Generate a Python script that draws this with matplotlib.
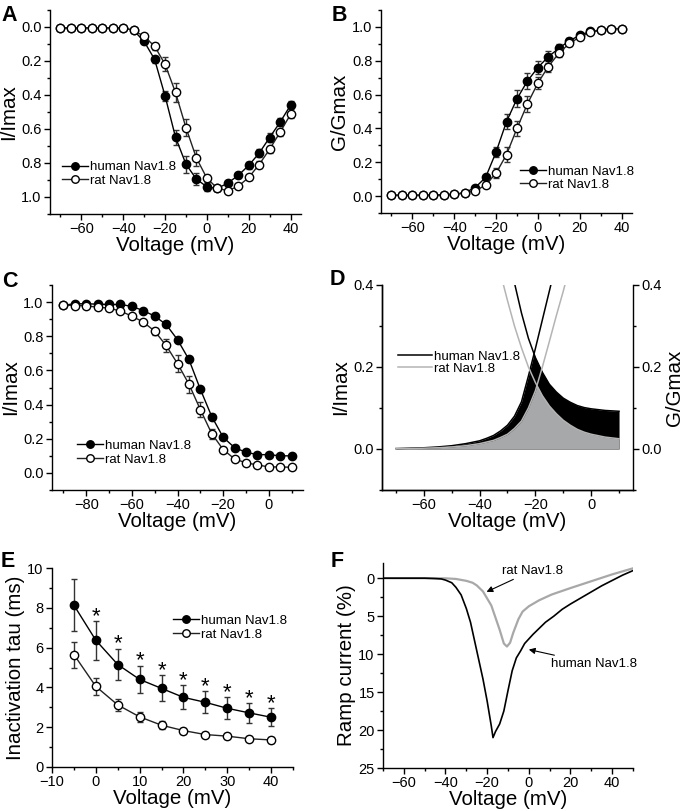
import numpy as np
import matplotlib
matplotlib.use("Agg")
import matplotlib.pyplot as plt
from matplotlib.ticker import MultipleLocator

plt.rcParams['font.family'] = ['Liberation Sans', 'DejaVu Sans']
plt.rcParams['font.size'] = 10.5
plt.rcParams['axes.linewidth'] = 1.0
plt.rcParams['xtick.direction'] = 'out'
plt.rcParams['ytick.direction'] = 'out'

# ---- A / B: activation, -70..40 mV ----
volt_act = [-70, -65, -60, -55, -50, -45, -40, -35, -30, -25, -20, -15,
            -10, -5, 0, 5, 10, 15, 20, 25, 30, 35, 40]
iv_human = [0.005, 0.005, 0.005, 0.005, 0.005, 0.005, 0.005, 0.02, 0.085, 0.19, 0.405, 0.648,
            0.807, 0.895, 0.94, 0.95, 0.918, 0.873, 0.814, 0.742, 0.65, 0.56, 0.46]
iv_human_err = [0, 0, 0, 0, 0, 0, 0, 0.01, 0.015, 0.02, 0.03, 0.045,
                0.05, 0.035, 0.025, 0.015, 0.015, 0.015, 0.02, 0.025, 0.025, 0.025, 0.025]
iv_rat = [0.005, 0.005, 0.005, 0.005, 0.005, 0.005, 0.005, 0.02, 0.055, 0.113, 0.219, 0.385,
          0.592, 0.771, 0.889, 0.949, 0.963, 0.937, 0.885, 0.809, 0.719, 0.619, 0.514]
iv_rat_err = [0, 0, 0, 0, 0, 0, 0, 0.01, 0.01, 0.02, 0.04, 0.055,
              0.05, 0.045, 0.02, 0.015, 0.015, 0.01, 0.015, 0.02, 0.02, 0.02, 0.02]

g_human = [0.005, 0.005, 0.005, 0.005, 0.005, 0.008, 0.01, 0.02, 0.05, 0.11, 0.26, 0.44,
           0.575, 0.68, 0.76, 0.824, 0.873, 0.918, 0.95, 0.973, 0.98, 0.99, 0.99]
g_human_err = [0, 0, 0, 0, 0, 0, 0, 0.005, 0.01, 0.015, 0.03, 0.045,
               0.05, 0.045, 0.04, 0.035, 0.025, 0.015, 0.01, 0.01, 0.01, 0.01, 0.01]
g_rat = [0.005, 0.005, 0.005, 0.005, 0.005, 0.008, 0.01, 0.02, 0.03, 0.065, 0.135, 0.245,
         0.40, 0.545, 0.668, 0.766, 0.844, 0.902, 0.94, 0.97, 0.98, 0.99, 0.99]
g_rat_err = [0, 0, 0, 0, 0, 0, 0, 0.005, 0.01, 0.01, 0.03, 0.045,
             0.045, 0.045, 0.035, 0.03, 0.02, 0.015, 0.01, 0.01, 0.01, 0.01, 0.01]

# ---- C: steady-state inactivation, -90..10 mV ----
volt_inact = [-90, -85, -80, -75, -70, -65, -60, -55, -50, -45, -40,
              -35, -30, -25, -20, -15, -10, -5, 0, 5, 10]
h_human = [0.982, 0.99, 0.99, 0.988, 0.986, 0.986, 0.975, 0.95, 0.918, 0.869, 0.78,
           0.664, 0.49, 0.33, 0.209, 0.148, 0.121, 0.107, 0.107, 0.10, 0.10]
h_human_err = [0.005, 0.005, 0.005, 0.005, 0.005, 0.005, 0.005, 0.008, 0.01, 0.01, 0.01,
               0.012, 0.012, 0.012, 0.01, 0.008, 0.008, 0.008, 0.008, 0.008, 0.008]
h_rat = [0.982, 0.98, 0.978, 0.97, 0.965, 0.947, 0.918, 0.883, 0.83, 0.746, 0.64,
         0.52, 0.371, 0.23, 0.137, 0.082, 0.059, 0.047, 0.035, 0.035, 0.033]
h_rat_err = [0.005, 0.005, 0.005, 0.01, 0.01, 0.01, 0.01, 0.015, 0.02, 0.04, 0.05,
             0.05, 0.045, 0.03, 0.015, 0.01, 0.01, 0.008, 0.008, 0.008, 0.008]

# ---- D: window current (fitted curves) ----
volt_win = [-70, -65, -60, -55, -50, -45, -40, -37.5, -35, -32.5, -30, -27.5, -25, -22.5,
            -20, -17.5, -15, -12.5, -10, -7.5, -5, -2.5, 0, 5, 10]
act_human = [0.001, 0.002, 0.003, 0.005, 0.008, 0.013, 0.02, 0.026, 0.033, 0.044, 0.058,
             0.08, 0.115, 0.178, 0.245, 0.315, 0.385, 0.455, 0.52, 0.585, 0.65, 0.71,
             0.76, 0.84, 0.9]
inact_human = [0.98, 0.97, 0.96, 0.94, 0.92, 0.88, 0.79, 0.725, 0.652, 0.568, 0.484,
               0.405, 0.332, 0.27, 0.223, 0.187, 0.158, 0.139, 0.124, 0.114, 0.106, 0.101,
               0.098, 0.094, 0.092]
act_rat = [0.001, 0.001, 0.002, 0.003, 0.005, 0.008, 0.013, 0.017, 0.021, 0.028, 0.036,
           0.05, 0.068, 0.1, 0.142, 0.2, 0.262, 0.325, 0.385, 0.45, 0.51, 0.57,
           0.63, 0.73, 0.81]
inact_rat = [0.97, 0.96, 0.95, 0.92, 0.85, 0.757, 0.637, 0.568, 0.499, 0.428, 0.362,
             0.3, 0.247, 0.2, 0.162, 0.13, 0.105, 0.086, 0.07, 0.058, 0.048, 0.041,
             0.036, 0.029, 0.025]

# ---- E: inactivation time constants ----
volt_tau = [-5, 0, 5, 10, 15, 20, 25, 30, 35, 40]
tau_human = [8.13, 6.37, 5.15, 4.4, 3.95, 3.5, 3.25, 2.95, 2.72, 2.5]
tau_human_err = [1.3, 0.98, 0.8, 0.7, 0.65, 0.6, 0.55, 0.55, 0.5, 0.45]
tau_rat = [5.65, 4.05, 3.12, 2.52, 2.1, 1.83, 1.63, 1.55, 1.42, 1.36]
tau_rat_err = [0.65, 0.42, 0.32, 0.25, 0.2, 0.15, 0.12, 0.15, 0.12, 0.15]
tau_signif = volt_tau[1:]

# ---- F: ramp currents ----
ramp_v_human = [-70, -60, -50, -45, -42, -40, -37, -35, -32.5, -30, -28, -26, -24, -22, -20,
                -18, -17.2, -16, -14, -12, -10, -8, -6, -4, -2, 0, 2, 5, 8, 12, 16, 20,
                25, 30, 35, 40, 45, 50]
ramp_human = [0, 0, 0, 0.05, 0.1, 0.25, 0.6, 1.2, 2.2, 4.0, 5.8, 8.3, 10.8, 13.3, 16.2,
              19.5, 21.0, 20.2, 19.2, 17.5, 14.8, 12.2, 10.5, 9.6, 8.6, 8.0, 7.4, 6.6, 5.8,
              5.0, 4.1, 3.4, 2.6, 1.8, 1.0, 0.3, -0.4, -1.0]
ramp_v_rat = [-70, -50, -40, -35, -30, -27, -25, -22, -18, -16, -14, -12, -10.5, -9, -7.5,
              -5, -3, 0, 5, 11, 20, 30, 40, 50]
ramp_rat = [0, 0, 0.02, 0.1, 0.35, 0.6, 0.95, 1.75, 3.6, 5.2, 6.8, 8.6, 9.0, 8.5, 7.2,
            5.4, 4.4, 3.7, 2.9, 2.15, 1.3, 0.4, -0.5, -1.3]

W, H = 682, 811
LABEL = 14.8
TICK = 10.5
fig = plt.figure(figsize=(W / 100, H / 100), dpi=100)


def box(l, t, r, b):
    return [l / W, 1 - b / H, (r - l) / W, (b - t) / H]


def style(ax):
    ax.spines['top'].set_visible(False)
    ax.spines['right'].set_visible(False)
    ax.tick_params(which='major', length=4, width=1, labelsize=TICK, pad=2)
    ax.tick_params(which='minor', length=2.5, width=1)
    ax.set_xlabel('Voltage (mV)', fontsize=LABEL, labelpad=0)


def two_series(ax, x, yh, eh, yr, er):
    ax.errorbar(x, yh, yerr=eh, fmt='none', ecolor='#333333', elinewidth=1, capsize=2, zorder=2)
    ax.errorbar(x, yr, yerr=er, fmt='none', ecolor='#333333', elinewidth=1, capsize=2, zorder=2)
    ax.plot(x, yh, '-o', color='black', lw=1, ms=6, mfc='black', mec='black',
            label='human Nav1.8', zorder=3)
    ax.plot(x, yr, '-o', color='#222222', lw=1, ms=6, mfc='white', mec='black',
            label='rat Nav1.8', zorder=3)


def legend(ax, fx, fy):
    ax.legend(loc='upper left', bbox_to_anchor=(fx, fy), frameon=False, fontsize=9.5,
              handlelength=2.0, handletextpad=0.1, labelspacing=0.1, borderpad=0,
              borderaxespad=0, numpoints=1, markerscale=0.9)


# A
axA = fig.add_axes(box(50, 10, 301, 214))
two_series(axA, volt_act, iv_human, iv_human_err, iv_rat, iv_rat_err)
axA.set_xlim(-75, 45)
axA.set_ylim(1.1, -0.1)
axA.xaxis.set_major_locator(MultipleLocator(20))
axA.xaxis.set_minor_locator(MultipleLocator(10))
axA.yaxis.set_major_locator(MultipleLocator(0.2))
axA.yaxis.set_minor_locator(MultipleLocator(0.1))
axA.yaxis.set_major_formatter(plt.FormatStrFormatter('%.1f'))
axA.set_ylabel('I/Imax', fontsize=LABEL, labelpad=2)
style(axA)
legend(axA, 0.048, 0.26)

# B
axB = fig.add_axes(box(381, 10, 632, 213))
two_series(axB, volt_act, g_human, g_human_err, g_rat, g_rat_err)
axB.set_xlim(-75, 45)
axB.set_ylim(-0.1, 1.1)
axB.xaxis.set_major_locator(MultipleLocator(20))
axB.xaxis.set_minor_locator(MultipleLocator(10))
axB.yaxis.set_major_locator(MultipleLocator(0.2))
axB.yaxis.set_minor_locator(MultipleLocator(0.1))
axB.yaxis.set_major_formatter(plt.FormatStrFormatter('%.1f'))
axB.set_ylabel('G/Gmax', fontsize=LABEL, labelpad=2)
style(axB)
legend(axB, 0.554, 0.235)

# C
axC = fig.add_axes(box(52, 285, 303, 490))
two_series(axC, volt_inact, h_human, h_human_err, h_rat, h_rat_err)
axC.set_xlim(-95, 15)
axC.set_ylim(-0.1, 1.1)
axC.xaxis.set_major_locator(MultipleLocator(20))
axC.xaxis.set_minor_locator(MultipleLocator(10))
axC.yaxis.set_major_locator(MultipleLocator(0.2))
axC.yaxis.set_minor_locator(MultipleLocator(0.1))
axC.yaxis.set_major_formatter(plt.FormatStrFormatter('%.1f'))
axC.set_ylabel('I/Imax', fontsize=LABEL, labelpad=2)
style(axC)
legend(axC, 0.10, 0.245)

# D
axD = fig.add_axes(box(382, 285, 633, 490))
fine = np.linspace(volt_win[0], volt_win[-1], 801)
top_h = np.minimum(np.interp(fine, volt_win, act_human), np.interp(fine, volt_win, inact_human))
top_r = np.minimum(np.interp(fine, volt_win, act_rat), np.interp(fine, volt_win, inact_rat))
axD.fill_between(fine, 0, top_h, color='black', lw=0, zorder=1)
axD.fill_between(fine, 0, top_r, color='#a7a8aa', lw=0, zorder=2)
axD.plot(volt_win, act_human, color='black', lw=1.1, zorder=3, label='human Nav1.8')
axD.plot(volt_win, inact_human, color='black', lw=1.1, zorder=3)
axD.plot(volt_win, act_rat, color='#b4b4b4', lw=1.1, zorder=4, label='rat Nav1.8')
axD.plot(volt_win, inact_rat, color='#b4b4b4', lw=1.1, zorder=4)
axD.set_xlim(-75, 15)
axD.set_ylim(-0.1, 0.4)
axD.xaxis.set_major_locator(MultipleLocator(20))
axD.xaxis.set_minor_locator(MultipleLocator(10))
axD.yaxis.set_major_locator(MultipleLocator(0.2))
axD.yaxis.set_minor_locator(MultipleLocator(0.1))
axD.yaxis.set_major_formatter(plt.FormatStrFormatter('%.1f'))
axD.set_ylabel('I/Imax', fontsize=LABEL, labelpad=2)
style(axD)
axD.legend(loc='upper left', bbox_to_anchor=(0.064, 0.68), frameon=False, fontsize=9.5,
           handlelength=2.6, handletextpad=0.1, labelspacing=0.0, borderpad=0,
           borderaxespad=0)
axD2 = axD.twinx()
axD2.set_ylim(-0.1, 0.4)
axD2.yaxis.set_major_locator(MultipleLocator(0.2))
axD2.yaxis.set_minor_locator(MultipleLocator(0.1))
axD2.yaxis.set_major_formatter(plt.FormatStrFormatter('%.1f'))
axD2.spines['top'].set_visible(False)
axD2.tick_params(which='major', length=4, width=1, labelsize=TICK, pad=2)
axD2.tick_params(which='minor', length=2.5, width=1)
axD2.set_ylabel('G/Gmax', fontsize=LABEL, labelpad=2)

# E
axE = fig.add_axes(box(52, 568, 293, 767))
axE.errorbar(volt_tau, tau_human, yerr=tau_human_err, fmt='none', ecolor='#333333',
             elinewidth=1, capsize=2, zorder=2)
axE.errorbar(volt_tau, tau_rat, yerr=tau_rat_err, fmt='none', ecolor='#333333',
             elinewidth=1, capsize=2, zorder=2)
axE.plot(volt_tau, tau_human, '-o', color='black', lw=1, ms=6, mfc='black', mec='black',
         label='human Nav1.8', zorder=3)
axE.plot(volt_tau, tau_rat, '-o', color='#222222', lw=1, ms=6, mfc='white', mec='black',
         label='rat Nav1.8', zorder=3)
for v, t, e in zip(volt_tau, tau_human, tau_human_err):
    if v in tau_signif:
        axE.text(v, t + e - 0.05, '*', ha='center', va='baseline', fontsize=16)
axE.set_xlim(-10, 45)
axE.set_ylim(0, 10)
axE.xaxis.set_major_locator(MultipleLocator(10))
axE.xaxis.set_minor_locator(MultipleLocator(5))
axE.yaxis.set_major_locator(MultipleLocator(2))
axE.yaxis.set_minor_locator(MultipleLocator(1))
axE.set_ylabel('Inactivation tau (ms)', fontsize=LABEL, labelpad=2)
style(axE)
legend(axE, 0.502, 0.765)

# F
axF = fig.add_axes(box(383, 563, 633, 768))
axF.plot(ramp_v_rat, ramp_rat, color='#a8a8a8', lw=1.6)
axF.plot(ramp_v_human, ramp_human, color='black', lw=1.2)
axF.set_xlim(-70, 50)
axF.set_ylim(25, -2)
axF.xaxis.set_major_locator(MultipleLocator(20))
axF.xaxis.set_minor_locator(MultipleLocator(10))
axF.yaxis.set_major_locator(MultipleLocator(5))
axF.yaxis.set_minor_locator(MultipleLocator(2.5))
axF.set_ylabel('Ramp current (%)', fontsize=LABEL, labelpad=2)
style(axF)
arrow = dict(arrowstyle='-|>', color='black', lw=0.8, mutation_scale=9, shrinkA=0, shrinkB=0)
axF.annotate('rat Nav1.8', xy=(-20.3, 1.8), xytext=(-13, -1.0), fontsize=9.5,
             ha='left', va='center', arrowprops=arrow)
axF.annotate('human Nav1.8', xy=(0, 9.4), xytext=(10.7, 11.3), fontsize=9.5,
             ha='left', va='center', arrowprops=arrow)

# panel letters
for letter, x, y in [('A', 1, 5), ('B', 332, 5), ('C', 2, 271), ('D', 330, 269),
                     ('E', 1, 551), ('F', 331, 551)]:
    fig.text(x / W, 1 - y / H, letter, fontsize=15.5, fontweight='bold', ha='left', va='top')

fig.savefig('out.png', dpi=100)
